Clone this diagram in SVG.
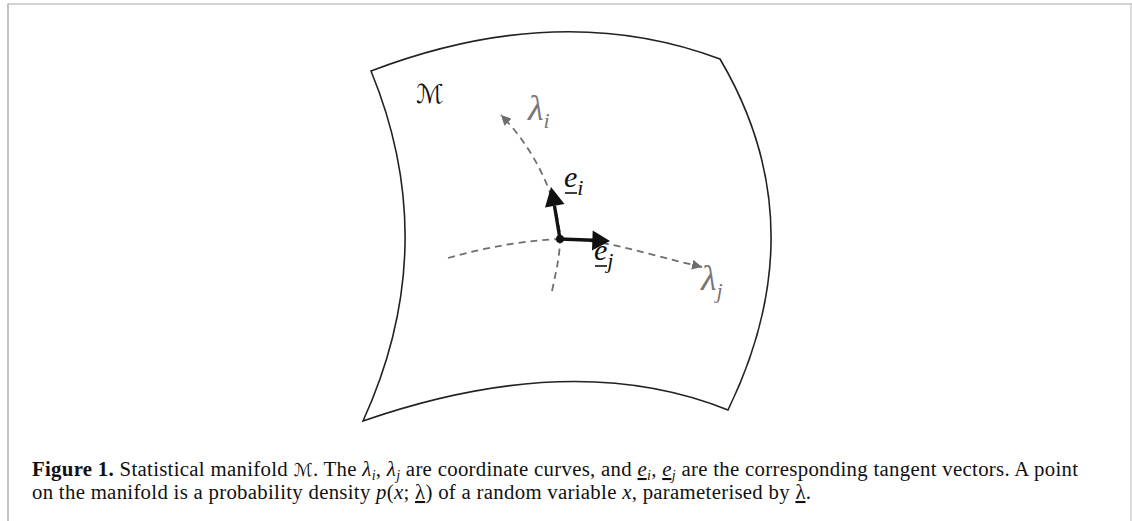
<svg xmlns="http://www.w3.org/2000/svg" width="1132" height="521" viewBox="0 0 1132 521">
<defs>
<style>
.frame{stroke:#c4c4c4;fill:none}
.edge{stroke:#222;stroke-width:1.6;fill:none}
.dash{stroke:#6e6e6e;stroke-width:1.8;fill:none;stroke-dasharray:7 5}
.vec{stroke:#111;stroke-width:3.4;fill:none}
.head{fill:#111}
.lab{font-family:"Liberation Serif","DejaVu Serif",serif;font-style:italic}
.gray{fill:#777}
.cap{font-family:"Liberation Serif","Times New Roman",serif;font-size:20.8px;fill:#111}
.cal{font-family:"DejaVu Sans",sans-serif;font-style:normal}
</style>
<marker id="gh" viewBox="0 0 10 10" refX="10" refY="5" markerWidth="10" markerHeight="10" markerUnits="userSpaceOnUse" orient="auto">
<path d="M0,0 L10,5 L0,10 z" fill="#6e6e6e"/>
</marker>
</defs>
<rect width="1132" height="521" fill="#fff"/>
<g id="frame">
<line class="frame" x1="8" y1="4" x2="1132" y2="4" stroke-width="1.6"/>
<line class="frame" x1="8" y1="3.5" x2="8" y2="521" stroke-width="2"/>
<line class="frame" x1="1131" y1="4" x2="1131" y2="521" stroke-width="1.2"/>
</g>
<g id="manifold">
<path class="edge" d="M371,71 Q560,-1 720,59 Q818,225 728,410 Q574,348 363,421 Q443,246 371,71 Z"/>
<text class="lab cal" x="416" y="103" font-size="26" fill="#111">ℳ</text>
</g>
<g id="connectors">
<path class="dash" d="M448,258 C490,246 530,240 560,239 C600,238 650,255 702,267" marker-end="url(#gh)"/>
<path class="dash" d="M552,291 C556,272 560,255 560,239 C560,215 545,160 501,115" marker-end="url(#gh)"/>
<line class="vec" x1="560" y1="239" x2="554.5" y2="206"/>
<path class="head" d="M551,187 L564.5,204 L545,207.5 Z"/>
<line class="vec" x1="560" y1="239" x2="593" y2="240.3"/>
<path class="head" d="M610,241 L592,250.5 L592.7,230.5 Z"/>
<circle cx="560" cy="239" r="4" fill="#111"/>
</g>
<g id="label-lambda-i">
<text class="lab gray" x="528" y="120" font-size="36">λ<tspan font-size="22" dy="8">i</tspan></text>
</g>
<g id="label-e-i">
<text class="lab" x="564" y="187" font-size="30" fill="#111">e<tspan font-size="22" dy="8">i</tspan></text>
<line x1="565" y1="193" x2="577" y2="193" stroke="#111" stroke-width="1.6"/>
</g>
<g id="label-e-j">
<text class="lab" x="594" y="260" font-size="30" fill="#111">e<tspan font-size="22" dy="8">j</tspan></text>
<line x1="595" y1="266" x2="607" y2="266" stroke="#111" stroke-width="1.6"/>
</g>
<g id="label-lambda-j">
<text class="lab gray" x="701" y="290" font-size="36">λ<tspan font-size="22" dy="8">j</tspan></text>
</g>
<g id="caption">
<text class="cap" x="32" y="476" textLength="1046" lengthAdjust="spacing"><tspan font-weight="bold">Figure 1.</tspan> Statistical manifold <tspan class="cal" font-size="18">ℳ</tspan>. The <tspan font-style="italic">λ</tspan><tspan font-style="italic" font-size="14" dy="4">i</tspan><tspan dy="-4">, </tspan><tspan font-style="italic">λ</tspan><tspan font-style="italic" font-size="14" dy="4">j</tspan><tspan dy="-4"> are coordinate curves, and </tspan><tspan font-style="italic" text-decoration="underline">e</tspan><tspan font-style="italic" font-size="14" dy="4">i</tspan><tspan dy="-4">, </tspan><tspan font-style="italic" text-decoration="underline">e</tspan><tspan font-style="italic" font-size="14" dy="4">j</tspan><tspan dy="-4"> are the corresponding tangent vectors. A point</tspan></text>
<text class="cap" x="32" y="499" textLength="779" lengthAdjust="spacing">on the manifold is a probability density <tspan font-style="italic">p</tspan>(<tspan font-style="italic">x</tspan>; <tspan text-decoration="underline">λ</tspan>) of a random variable <tspan font-style="italic">x</tspan>, parameterised by <tspan text-decoration="underline">λ</tspan>.</text>
</g>
</svg>
